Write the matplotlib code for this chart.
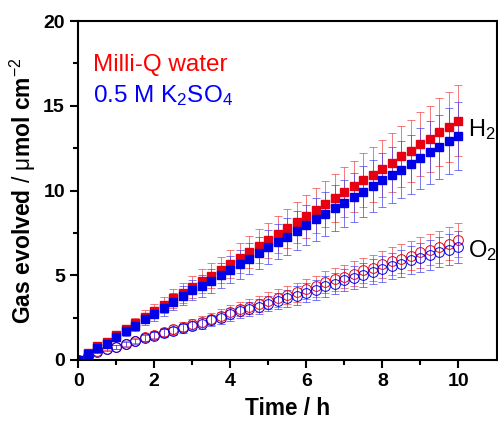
import matplotlib.pyplot as plt
import numpy as np

plt.rcParams['font.family'] = ['Liberation Sans', 'DejaVu Sans']
plt.rcParams['mathtext.fontset'] = 'custom'
plt.rcParams['mathtext.rm'] = 'Liberation Sans'
plt.rcParams['mathtext.it'] = 'Liberation Sans'
plt.rcParams['mathtext.bf'] = 'Liberation Sans:bold'

# time points (h)
time_h = [0, 0.25, 0.5, 0.75, 1, 1.25, 1.5, 1.75, 2, 2.25, 2.5, 2.75, 3, 3.25, 3.5, 3.75,
          4, 4.25, 4.5, 4.75, 5, 5.25, 5.5, 5.75, 6, 6.25, 6.5, 6.75, 7, 7.25, 7.5, 7.75,
          8, 8.25, 8.5, 8.75, 9, 9.25, 9.5, 9.75, 10]

# H2, Milli-Q water
h2_water = [0, 0.4, 0.84, 1.08, 1.47, 1.82, 2.16, 2.55, 2.88, 3.25, 3.63, 3.96, 4.31, 4.65,
            4.96, 5.31, 5.66, 6.02, 6.37, 6.73, 7.06, 7.41, 7.76, 8.12, 8.47, 8.82, 9.18,
            9.55, 9.9, 10.24, 10.61, 10.94, 11.29, 11.65, 12.02, 12.35, 12.72, 13.06, 13.43,
            13.76, 14.12]
h2_water_err = [0, 0.06, 0.12, 0.16, 0.22, 0.27, 0.32, 0.38, 0.43, 0.48, 0.54, 0.59, 0.64,
                0.69, 0.74, 0.79, 0.84, 0.9, 0.95, 1.0, 1.05, 1.1, 1.15, 1.21, 1.26, 1.31,
                1.36, 1.42, 1.47, 1.52, 1.58, 1.63, 1.68, 1.73, 1.79, 1.84, 1.89, 1.94, 2.0,
                2.05, 2.1]

# H2, 0.5 M K2SO4
h2_k2so4 = [0, 0.35, 0.69, 0.94, 1.33, 1.69, 2.0, 2.43, 2.7, 3.04, 3.43, 3.78, 4.12, 4.35,
            4.66, 5.0, 5.33, 5.65, 5.98, 6.31, 6.65, 6.98, 7.27, 7.63, 7.96, 8.29, 8.63,
            8.98, 9.25, 9.59, 9.94, 10.27, 10.6, 10.94, 11.23, 11.56, 11.9, 12.25, 12.59,
            12.9, 13.22]
h2_k2so4_err = [0, 0.05, 0.1, 0.14, 0.2, 0.25, 0.3, 0.36, 0.4, 0.45, 0.51, 0.56, 0.61, 0.65,
                0.7, 0.75, 0.8, 0.85, 0.9, 0.95, 1.0, 1.05, 1.09, 1.15, 1.2, 1.25, 1.3, 1.35,
                1.39, 1.44, 1.5, 1.55, 1.6, 1.65, 1.69, 1.74, 1.79, 1.84, 1.89, 1.94, 1.99]

# O2, Milli-Q water
o2_water = [0, 0.25, 0.5, 0.65, 0.78, 0.96, 1.14, 1.33, 1.5, 1.65, 1.8, 1.96, 2.12, 2.26,
            2.44, 2.61, 2.83, 3.0, 3.15, 3.31, 3.5, 3.65, 3.84, 4.0, 4.18, 4.36, 4.59, 4.76,
            4.92, 5.1, 5.29, 5.45, 5.65, 5.82, 5.98, 6.16, 6.35, 6.51, 6.67, 6.86, 7.06]
o2_water_err = [0, 0.04, 0.07, 0.09, 0.11, 0.14, 0.16, 0.19, 0.21, 0.23, 0.25, 0.28, 0.3,
                0.32, 0.35, 0.37, 0.4, 0.42, 0.45, 0.47, 0.5, 0.52, 0.54, 0.57, 0.59, 0.62,
                0.65, 0.67, 0.7, 0.72, 0.75, 0.77, 0.8, 0.82, 0.85, 0.87, 0.9, 0.92, 0.94,
                0.97, 1.0]

# O2, 0.5 M K2SO4
o2_k2so4 = [0, 0.24, 0.47, 0.62, 0.75, 0.92, 1.1, 1.28, 1.44, 1.58, 1.73, 1.88, 2.03, 2.15,
            2.33, 2.49, 2.7, 2.86, 3.0, 3.15, 3.33, 3.47, 3.64, 3.8, 3.98, 4.14, 4.35, 4.51,
            4.71, 4.86, 5.04, 5.22, 5.37, 5.55, 5.69, 5.88, 6.04, 6.18, 6.35, 6.51, 6.67]
o2_k2so4_err = [0, 0.03, 0.07, 0.09, 0.11, 0.13, 0.16, 0.18, 0.2, 0.22, 0.24, 0.27, 0.29,
                0.31, 0.33, 0.35, 0.38, 0.4, 0.42, 0.44, 0.47, 0.49, 0.51, 0.54, 0.56, 0.58,
                0.61, 0.63, 0.66, 0.68, 0.71, 0.73, 0.75, 0.78, 0.8, 0.82, 0.85, 0.87, 0.89,
                0.91, 0.94]

red = '#e60012'
blue = '#0000e6'

fig = plt.figure(figsize=(4.98, 4.21), dpi=100)
ax = fig.add_axes([0.157, 0.145, 0.84, 0.805])

err_kw = dict(elinewidth=0.7, capsize=3, capthick=0.7, linestyle='none')

# O2 (open circles)
ax.errorbar(time_h, o2_water, yerr=o2_water_err, marker='o', ms=7, mfc='none', mec=red,
            mew=0.7, ecolor=(0.95, 0.25, 0.25, 0.7), **err_kw)
ax.errorbar(time_h, o2_k2so4, yerr=o2_k2so4_err, marker='o', ms=7, mfc='none', mec=blue,
            mew=0.7, ecolor=(0.25, 0.25, 0.95, 0.7), **err_kw)

# H2 (filled squares)
ax.errorbar(time_h, h2_water, yerr=h2_water_err, marker='s', ms=6, color=red, mec=red,
            ecolor=(0.95, 0.25, 0.25, 0.7), **err_kw)
ax.errorbar(time_h, h2_k2so4, yerr=h2_k2so4_err, marker='s', ms=6, color=blue, mec=blue,
            ecolor=(0.25, 0.25, 0.95, 0.7), **err_kw)

ax.set_xlim(0, 11)
ax.set_ylim(0, 20)
ax.set_xticks([0, 2, 4, 6, 8, 10])
ax.set_xticks([1, 3, 5, 7, 9], minor=True)
ax.set_yticks([0, 5, 10, 15, 20])
ax.set_yticks([2.5, 7.5, 12.5, 17.5], minor=True)
ax.tick_params(which='major', direction='out', length=6, width=1.5, labelsize=14)
ax.tick_params(which='minor', direction='out', length=3.5, width=1.5)
for lab in ax.get_xticklabels() + ax.get_yticklabels():
    lab.set_fontweight('bold')
for s in ax.spines.values():
    s.set_linewidth(1.5)

ax.set_xlabel('Time / h', fontsize=16.3, fontweight='bold', labelpad=5)
ax.set_ylabel(r'Gas evolved $/$ $\mu$mol cm$^{-2}$', fontsize=16.5,
              fontweight='bold', labelpad=4)

ax.text(0.39, 17.06, 'Milli-Q water', color='#ff0000', fontsize=17.5, va='baseline')
ax.text(0.39, 15.2, r'0.5 M K$_2$SO$_4$', color='#0000ff', fontsize=17.5, va='baseline')
ax.text(10.26, 13.2, r'H$_2$', color='black', fontsize=17, va='baseline')
ax.text(10.26, 6.06, r'O$_2$', color='black', fontsize=17, va='baseline')

plt.savefig('out.png', dpi=100)
